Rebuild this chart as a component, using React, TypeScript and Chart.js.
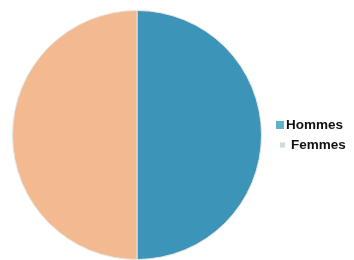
import React, { useEffect, useRef } from "react";
import { Chart, registerables } from "chart.js";

Chart.register(...registerables);

const categories = ["Hommes", "Femmes"];
const values = [50, 50];
const sliceColors = ["#3d94b9", "#f3b990"];
const legendColors = ["#5eb1c9", "#d3d9e0"];
const legendOffsets = [0, 5];

const legendPlugin = {
  id: "customLegend",
  afterDraw(chart: any) {
    const ctx = chart.ctx;
    const labels: string[] = chart.data.labels;
    ctx.save();
    ctx.font = "bold 13.5px 'Liberation Sans', Arial, sans-serif";
    ctx.textBaseline = "middle";
    ctx.fillStyle = "#111";
    labels.forEach((lab, i) => {
      const y = 125 + i * 20;
      const off = legendOffsets[i];
      ctx.fillStyle = legendColors[i];
      const s = i === 0 ? 8 : 5;
      ctx.fillRect(276 + off / 2 + (8 - s) / 2, y - s / 2, s, s);
      ctx.fillStyle = "#111";
      ctx.fillText(lab, 286 + off, y);
    });
    ctx.restore();
  },
};

export default function App() {
  const ref = useRef<HTMLCanvasElement>(null);
  useEffect(() => {
    const chart = new Chart(ref.current!, {
      type: "pie",
      data: {
        labels: categories,
        datasets: [
          {
            data: values,
            backgroundColor: sliceColors,
            borderColor: "#e9e4de",
            borderWidth: 1,
          },
        ],
      },
      options: {
        responsive: false,
        animation: false,
        layout: { padding: { left: 12, right: 92, top: 10, bottom: 0 } },
        plugins: { legend: { display: false }, tooltip: { enabled: false } },
      },
      plugins: [legendPlugin],
    });
    return () => chart.destroy();
  }, []);
  return (
    <div style={{ position: "absolute", left: 0, top: 0, width: 354, height: 260, background: "#fff" }}>
      <canvas ref={ref} width={354} height={260} />
    </div>
  );
}
